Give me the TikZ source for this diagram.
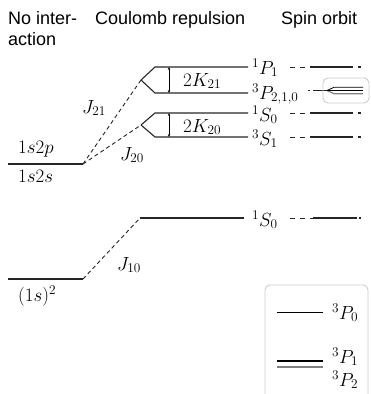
\RequirePackage{fix-cm}
\documentclass[tikz,border=0pt]{standalone}
\usepackage{fontspec}
\setsansfont{Liberation Sans}
\usetikzlibrary{arrows.meta}
\begin{document}
\begin{tikzpicture}[x=1pt,y=-1pt,
  level/.style={line width=1.1pt, draw=black!85},
  conn/.style={line width=0.9pt, draw=black!85, dash pattern=on 4pt off 3pt},
  sodash/.style={line width=1pt, draw=black!85, dash pattern=on 5pt off 5pt},
  karrow/.style={line width=0.6pt, {Stealth[length=3pt,width=2.4pt]}-{Stealth[length=3pt,width=2.4pt]}},
  title/.style={font=\sffamily\fontsize{18}{22}\selectfont, anchor=base west, inner sep=0pt},
  lbl/.style={font=\fontsize{19}{22}\selectfont, anchor=base west, inner sep=0pt},
  frame/.style={draw=black!20, line width=0.9pt, rounded corners=5pt},
  thinl/.style={line width=0.8pt, draw=black},
  thickl/.style={line width=1.5pt, draw=black},
  grayl/.style={line width=1.2pt, draw=black!50}]
\useasboundingbox (0,0) rectangle (370,394);
\clip (0,0) rectangle (370,394);

% titles
\node[title] (t1) at (8,24) {No inter-};
\node[title] (t1b) at (8,45) {action};
\node[title] (t2) at (95,24) {Coulomb repulsion};
\node[title] (t3) at (281,24) {Spin orbit};

% left levels
\coordinate (Ls) at (8,164); \coordinate (Le) at (83,164);
\coordinate (Gs) at (8,279); \coordinate (Ge) at (83,279);
\draw[level] (Ls) -- (Le);
\draw[level] (Gs) -- (Ge);
\node[lbl] (l2p) at (18,153) {$1s2p$};
\node[lbl] (l2s) at (18,182) {$1s2s$};
\node[lbl] (l1s) at (18,301) {$(1s)^2$};

% Coulomb levels
\coordinate (A21) at (141,80); \coordinate (A20) at (141,125);
\coordinate (P1s) at (155,67); \coordinate (P1e) at (248,67);
\coordinate (P3s) at (155,93); \coordinate (P3e) at (248,93);
\coordinate (S0s) at (155,113); \coordinate (S0e) at (248,113);
\coordinate (S1s) at (155,137); \coordinate (S1e) at (248,137);
\coordinate (G0s) at (140,218); \coordinate (G0e) at (244,218);
\draw[level] (A21) -- (P1s) -- (P1e);
\draw[level] (A21) -- (P3s) -- (P3e);
\draw[level] (A20) -- (S0s) -- (S0e);
\draw[level] (A20) -- (S1s) -- (S1e);
\draw[level] (G0s) -- (G0e);

% connectors
\draw[conn] (Le) -- (A21);
\draw[conn] (Le) -- (A20);
\draw[conn] (Ge) -- (G0s);
\node[lbl] (j21) at (82,113) {$J_{21}$};
\node[lbl] (j20) at (120,160) {$J_{20}$};
\node[lbl] (j10) at (117,270) {$J_{10}$};

% exchange splittings
\coordinate (K21t) at (169,67); \coordinate (K21b) at (169,93);
\coordinate (K20t) at (169,113); \coordinate (K20b) at (169,137);
\draw[karrow] (K21t) -- (K21b);
\draw[karrow] (K20t) -- (K20b);
\node[lbl] (k21) at (183,86) {$2K_{21}$};
\node[lbl] (k20) at (183,132) {$2K_{20}$};

% term labels
\node[lbl] (tP1) at (252,74) {${}^1P_1$};
\node[lbl] (tP3) at (252,99) {${}^3P_{2,1,0}$};
\node[lbl] (tS0) at (252,121) {${}^1S_0$};
\node[lbl] (tS1) at (252,145) {${}^3S_1$};
\node[lbl] (tG0) at (252,226) {${}^1S_0$};

% spin-orbit rows
\foreach \y/\n in {67/a,113/b,137/c}{
  \coordinate (so\n1) at (290,\y); \coordinate (so\n2) at (310,\y);
  \coordinate (so\n3) at (353,\y); \coordinate (so\n4) at (358,\y);
  \coordinate (so\n5) at (361,\y);
  \draw[sodash] (so\n1) -- (so\n2);
  \draw[level] (so\n2) -- (so\n3);
  \draw[level] (so\n4) -- (so\n5);
}
\coordinate (sog1) at (290,218); \coordinate (sog2) at (313,218);
\coordinate (sog3) at (357,218); \coordinate (sog4) at (359,218);
\coordinate (sog5) at (361,218);
\draw[sodash] (sog1) -- (sog2);
\draw[level] (sog2) -- (sog3);
\draw[level] (sog4) -- (sog5);

% 3P fine structure inset
\coordinate (pd1) at (308,90.5); \coordinate (pd2) at (310,90.5);
\coordinate (pd3) at (313,90.5); \coordinate (pA) at (327,90.5);
\draw[level] (pd1) -- (pd2);
\draw[level] (pd3) -- (pA);
\draw[frame] (323,78) rectangle (369,103);
\coordinate (f0a) at (334,87.3); \coordinate (f0b) at (363,87.3);
\coordinate (f1a) at (334,90.5); \coordinate (f1b) at (363,90.5);
\coordinate (f2a) at (334,93.7); \coordinate (f2b) at (363,93.7);
\draw[thinl] (pA) -- (f0a) -- (f0b);
\draw[grayl] (pA) -- (f2a) -- (f2b);
\draw[thickl] (pA) -- (f1a) -- (f1b);

% legend
\draw[frame] (265,285) rectangle (368,410);
\coordinate (g0a) at (277,312); \coordinate (g0b) at (323,312);
\coordinate (g1a) at (277,361); \coordinate (g1b) at (323,361);
\coordinate (g2a) at (277,367); \coordinate (g2b) at (323,367);
\draw[thinl] (g0a) -- (g0b);
\draw[thickl] (g1a) -- (g1b);
\draw[grayl] (g2a) -- (g2b);
\node[lbl] (lP0) at (332,319) {${}^3P_0$};
\node[lbl] (lP1) at (332,363) {${}^3P_1$};
\node[lbl] (lP2) at (332,386) {${}^3P_2$};
\end{tikzpicture}
\end{document}
